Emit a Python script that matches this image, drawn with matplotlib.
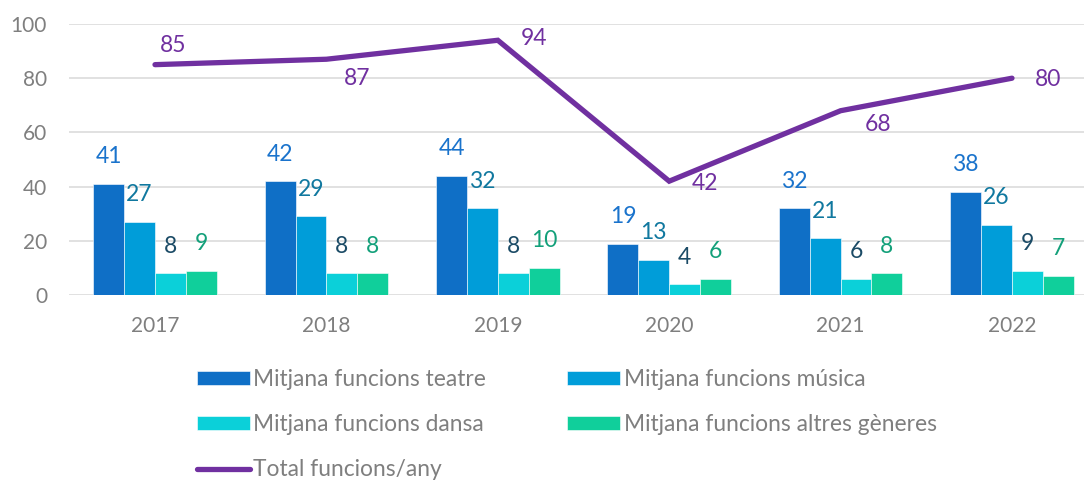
import matplotlib
matplotlib.use("Agg")
import matplotlib.pyplot as plt
import numpy as np

plt.rcParams['font.family'] = ['Lato', 'DejaVu Sans']

years = ['2017', '2018', '2019', '2020', '2021', '2022']
teatre = [41, 42, 44, 19, 32, 38]
musica = [27, 29, 32, 13, 21, 26]
dansa = [8, 8, 8, 4, 6, 9]
altres = [9, 8, 10, 6, 8, 7]
total = [85, 87, 94, 42, 68, 80]

series_names = ['Mitjana funcions teatre', 'Mitjana funcions música',
                'Mitjana funcions dansa', 'Mitjana funcions altres gèneres']
line_name = 'Total funcions/any'

bar_colors = ['#0F6FC6', '#009DD9', '#0BD0D9', '#10CF9B']
label_colors = ['#1A73CC', '#10789F', '#1B4B66', '#13A07A']
line_color = '#7030A0'
grey = '#7F7F7F'

# line label offsets in pixels (dx right, dy up)
line_label_offsets = [(18, 19), (31, -19), (36, 2), (36, -2), (37, -14), (36, -1)]

W, H = 1084, 480
fig = plt.figure(figsize=(W / 100, H / 100), dpi=100)
x_left, x_right = 69.3, 1097.7
y_top, y_bot = 24, 295
ax = fig.add_axes([x_left / W, 1 - y_bot / H, (x_right - x_left) / W, (y_bot - y_top) / H])

x = np.arange(len(years))
nb = 4
bw = 0.18
for i, (vals, c, lc) in enumerate(zip([teatre, musica, dansa, altres], bar_colors, label_colors)):
    pos = x + (i - (nb - 1) / 2) * bw
    bars = ax.bar(pos, vals, width=bw, color=c, edgecolor='white', linewidth=0.4,
                  label=series_names[i], zorder=2)
    for b, v in zip(bars, vals):
        ax.annotate(str(v), (b.get_x() + b.get_width() / 2, v), xytext=(0, 19.5),
                    textcoords='offset points', ha='center', va='center',
                    fontsize=16.5, color=lc, annotation_clip=False)

ln, = ax.plot(x, total, color=line_color, linewidth=3.8, solid_capstyle='round',
              solid_joinstyle='miter', label=line_name, zorder=3)
for xi, v, (dx, dy) in zip(x, total, line_label_offsets):
    ax.annotate(str(v), (xi, v), xytext=(dx * 0.72, dy * 0.72), textcoords='offset points',
                ha='center', va='center', fontsize=16.5, color=line_color, annotation_clip=False)

ax.set_xlim(-0.5, 5.5)
ax.set_ylim(0, 100)
ax.set_yticks(np.arange(0, 101, 20))
ax.set_xticks(x)
ax.set_xticklabels(years)
ax.tick_params(axis='both', length=0, labelsize=15, labelcolor=grey)
ax.tick_params(axis='y', pad=16)
ax.tick_params(axis='x', pad=15)
ax.grid(axis='y', color='#D9D9D9', linewidth=1.1, zorder=0)
ax.set_axisbelow(True)
for s in ax.spines.values():
    s.set_visible(False)

handles, labels = ax.get_legend_handles_labels()
hmap = dict(zip(labels, handles))
order = [series_names[0], series_names[2], line_name, series_names[1], series_names[3]]
leg = fig.legend([hmap[k] for k in order], order, ncol=2, loc='upper left',
                 bbox_to_anchor=(197 / W, 1 - 369 / H), frameon=False,
                 fontsize=16.4, labelcolor=grey, handlelength=2.33, handleheight=0.6,
                 handletextpad=0.15, columnspacing=3.55, labelspacing=1.06,
                 borderaxespad=0, borderpad=0)

fig.savefig('out.png', dpi=100)
